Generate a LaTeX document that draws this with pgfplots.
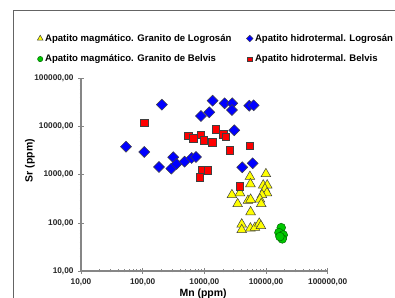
\documentclass[border=0pt]{standalone}
\usepackage{fontspec}
\setmainfont{Liberation Sans}
\usepackage{pgfplots}
\pgfplotsset{compat=1.18}
\definecolor{framegray}{RGB}{100,100,100}
\definecolor{axgray}{RGB}{134,134,134}
\definecolor{triyellow}{RGB}{255,255,0}
\definecolor{diablue}{RGB}{0,0,255}
\definecolor{circgreen}{RGB}{0,200,0}
\definecolor{sqred}{RGB}{255,0,0}
\begin{document}
\begin{tikzpicture}[x=1bp,y=1bp]
\path[use as bounding box] (0,0) rectangle (395,298);
\draw[framegray, line width=0.8bp] (13,-2) -- (13,287.3) -- (397,287.3);
\begin{axis}[
  at={(81bp,27bp)}, anchor=south west,
  scale only axis, width=246.7bp, height=192.7bp,
  xmode=log, ymode=log,
  xmin=10, xmax=100000, ymin=10, ymax=100000,
  axis lines=left,
  axis line style={-, axgray, line width=1.2bp},
  xtick={10,100,1000,10000,100000},
  xticklabels={{10,00},{100,00},{1000,00},{10000,00},{100000,00}},
  ytick={10,100,1000,10000,100000},
  yticklabels={{10,00},{100,00},{1000,00},{10000,00},{100000,00}},
  tick style={axgray, line width=0.6bp},
  tick align=center,
  major tick length=6bp, minor tick length=3bp,
  ticklabel style={font=\fontsize{8.3}{10}\selectfont\bfseries, text=black!85},
  xticklabel style={yshift=-1bp},
  yticklabel style={xshift=-1bp},
  xlabel={Mn (ppm)},
  ylabel={Sr (ppm)},
  xlabel style={at={(rel axis cs:0.495,-0.119)}, anchor=center, font=\fontsize{10.5}{12}\selectfont\bfseries},
  ylabel style={at={(rel axis cs:-0.207,0.573)}, anchor=center, font=\fontsize{10.5}{12}\selectfont\bfseries},
  clip=false,
  legend columns=2,
  legend cell align=left,
  legend image code/.code={\draw[#1, line width=0.3bp, every mark/.append style={scale=0.6}] plot coordinates {(0bp,0bp)};},
  legend style={at={(-0.19,1.25)}, anchor=north west, draw=none, fill=none,
    font=\fontsize{9.6}{11}\selectfont\bfseries, row sep=8bp,
    /tikz/every even column/.append style={column sep=13bp}},
]
\addplot[only marks, mark=triangle*, mark size=5.6bp, mark options={fill=triyellow, draw=black!75, line width=0.5bp}] coordinates {
(5480,910) (5580,641) (9950,1035) (9010,603) (10450,603) (9600,505)
(10350,417) (8590,380) (7960,309) (2800,380) (3775,417) (3467,247)
(5090,289) (5620,305) (8360,247) (5620,168) (4036,93.5) (4036,71.3)
(5580,77.3) (6610,79.4) (7760,97.3) (8260,86.3)
};
\addlegendentry{Apatito magmático. Granito de Logrosán}
\addplot[only marks, mark=square*, mark size=3.9bp, mark options={rotate=45, fill=diablue, draw=black!75, line width=0.5bp}] coordinates {
(53.6,3811) (106,2960) (205,28300) (184,1445) (291,1334) (313,2297)
(355,1667) (478,1862) (622,2218) (731,2329) (881,16500) (1203,19700)
(1361,34300) (2132,30300) (2832,30300) (2800,21980) (5345,27000)
(6300,27540) (3055,8340) (4113,1422) (6070,1722)
};
\addlegendentry{Apatito hidrotermal. Logrosán}
\addplot[only marks, mark=*, mark size=4.4bp, mark options={fill=circgreen, draw=green!40!black, line width=0.5bp}] coordinates {
(17630,79.4) (16190,62.7) (19000,56.1) (18330,46.4) (16800,51.8)
};
\addlegendentry{Apatito magmático. Granito de Belvis}
\addplot[only marks, mark=square*, mark size=3.7bp, mark options={fill=sqred, draw=black!75, line width=0.5bp}] coordinates {
(106,12000) (548,6350) (661,5690) (881,6670) (975,5170) (1542,8750)
(2024,6890) (2238,6050) (1343,4700) (2600,3210) (5480,4000)
(925,1253) (1143,1233) (849,883) (3732,574)
};
\addlegendentry{Apatito hidrotermal. Belvis}
\end{axis}
\end{tikzpicture}
\end{document}
